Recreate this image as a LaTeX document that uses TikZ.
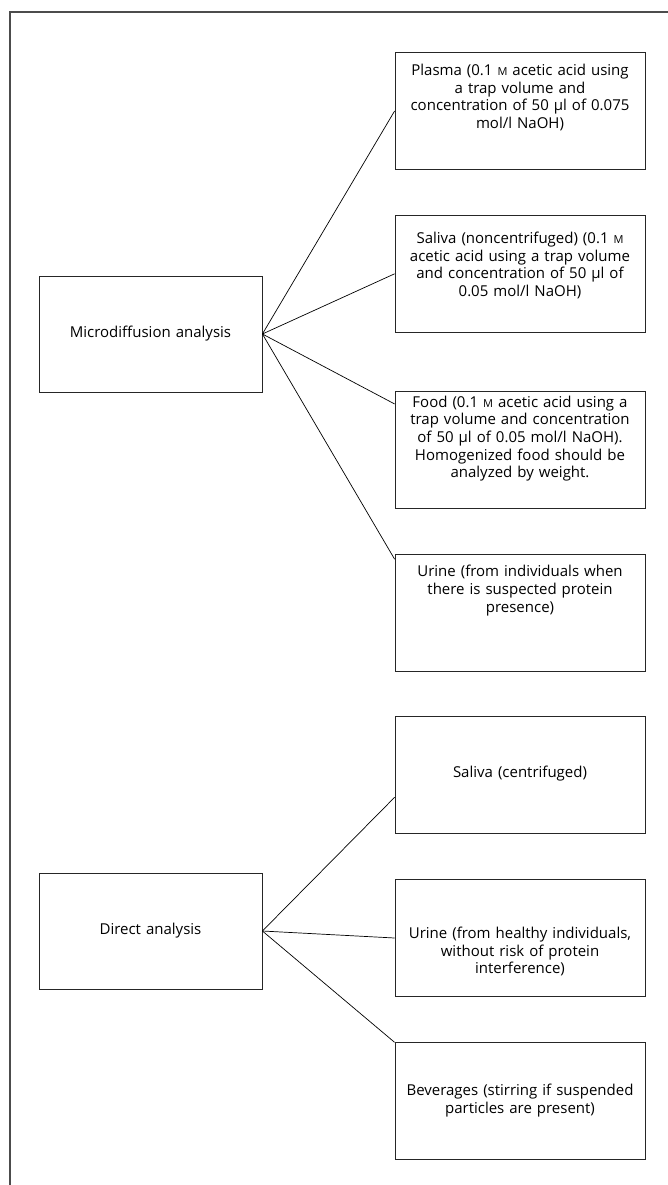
\documentclass[tikz,border=0pt]{standalone}
\usepackage{fontspec}
\setmainfont{Open Sans}
\usetikzlibrary{positioning}
\newcommand{\molar}{{\fontsize{11pt}{0pt}\selectfont M}}

\begin{document}
\begin{tikzpicture}[
x=1pt,y=-1pt,
node distance=45pt,
box/.style={draw=black!85,line width=0.8pt,align=center,minimum width=250pt,
minimum height=117pt,text width=244pt,inner sep=0pt,inner xsep=3pt,
font=\fontsize{15pt}{17.7pt}\selectfont},
root/.style={draw=black!85,line width=0.8pt,align=center,minimum width=223pt,
minimum height=116pt,text width=215pt,inner sep=0pt,inner xsep=4pt,
text height=61pt,text depth=55pt,font=\fontsize{15pt}{17.7pt}\selectfont},
link/.style={line width=0.7pt}
]
\useasboundingbox (0,0) rectangle (668,1185);
% open frame
\draw[line width=1.5pt,black!70] (668,12) -- (10,12) -- (10,1185);

\node[box,text height=23pt,text depth=94pt] (plasma) at (520,111)
{Plasma (0.1 \molar{} acetic acid using\\a trap volume and\\
concentration of 50 µl of 0.075\\mol/l NaOH)};
\node[box,text height=28pt,text depth=89pt,below=of plasma] (salivanc)
{Saliva (noncentrifuged) (0.1 \molar\\acetic acid using a trap volume\\
and concentration of 50 µl of\\0.05 mol/l NaOH)};
\node[box,text height=16pt,text depth=101pt,below=58pt of salivanc] (food)
{Food (0.1 \molar{} acetic acid using a\\trap volume and concentration\\
of 50 µl of 0.05 mol/l NaOH).\\Homogenized food should be\\analyzed by weight.};
\node[box,text height=23pt,text depth=94pt,below=of food] (urine)
{Urine (from individuals when\\there is suspected protein\\presence)};
\node[box,text height=61pt,text depth=56pt,below=of urine] (salivac)
{Saliva (centrifuged)};
\node[box,text height=59pt,text depth=58pt,below=of salivac] (urineh)
{Urine (from healthy individuals,\\without risk of protein\\interference)};
\node[box,text height=53pt,text depth=64pt,below=of urineh] (bev)
{Beverages (stirring if suspended\\particles are present)};

\node[root] (micro) at (150.5,334) {Microdiffusion analysis};
\node[root] (direct) at (150.5,931) {Direct analysis};

\draw[link] (micro.east) -- (plasma.west);
\draw[link] (micro.east) -- (salivanc.west);
\draw[link] (micro.east) -- (food.160);
\draw[link] (micro.east) -- (urine.157);
\draw[link] (direct.east) -- (salivac.190);
\draw[link] (direct.east) -- (urineh.west);
\draw[link] (direct.east) -- (bev.155);
\end{tikzpicture}
\end{document}
